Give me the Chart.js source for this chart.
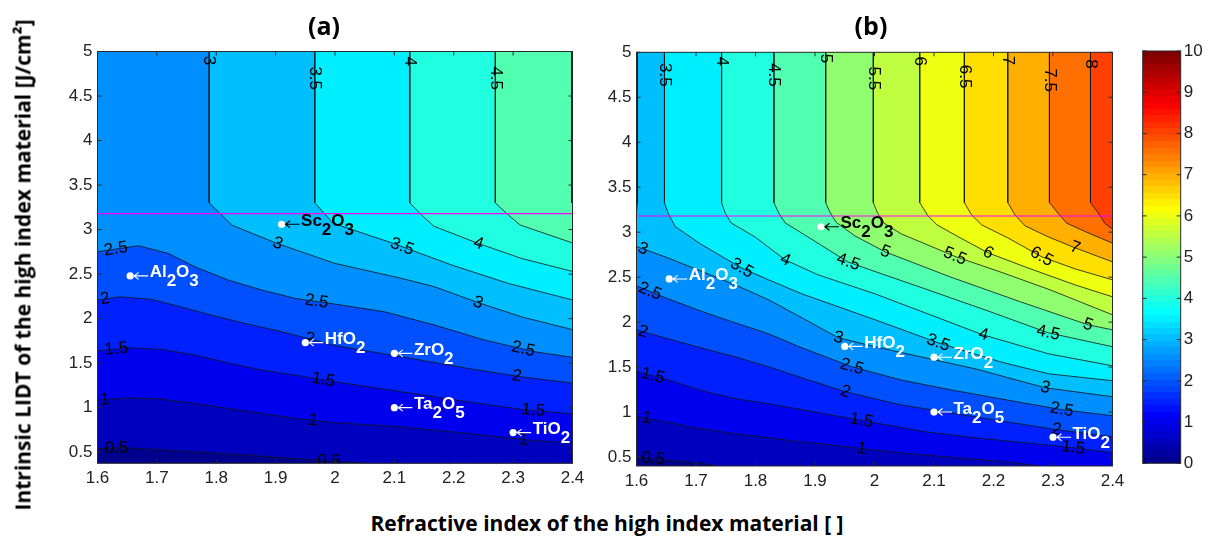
<!DOCTYPE html>
<html>
<head>
<meta charset="utf-8">
<script src="https://cdn.jsdelivr.net/npm/chart.js@4.4.1/dist/chart.umd.min.js"></script>
<style>
  html, body { margin: 0; padding: 0; background: #fff; }
  #wrap { position: relative; width: 1214px; height: 540px; overflow: hidden; background: #fff; }
  canvas { position: absolute; top: 0; }
  .ttl { position: absolute; font-family: "Open Sans", sans-serif; font-weight: 700; color: #000;
         white-space: nowrap; transform: translate(-50%, -50%); line-height: 1; }
</style>
</head>
<body>
<div id="wrap">
  <canvas id="panelA" width="600" height="500" style="left:0px"></canvas>
  <canvas id="panelB" width="600" height="500" style="left:540px"></canvas>
  <canvas id="cbar" width="94" height="500" style="left:1120px"></canvas>
  <div class="ttl" style="left:324px; top:25px; font-size:25px">(a)</div>
  <div class="ttl" style="left:871px; top:25px; font-size:25px">(b)</div>
  <div class="ttl" style="left:23px; top:265px; font-size:21px; transform: translate(-50%, -50%) rotate(-90deg)">Intrinsic LIDT of the high index material [J/cm²]</div>
  <div class="ttl" style="left:607px; top:523px; font-size:21px">Refractive index of the high index material [ ]</div>
</div>
<script>
// axes
var X_MIN = 1.6, X_MAX = 2.4, Y_MAX = 5;
var xTicks = [1.6, 1.7, 1.8, 1.9, 2, 2.1, 2.2, 2.3, 2.4];
var yTicks = [0.5, 1, 1.5, 2, 2.5, 3, 3.5, 4, 4.5, 5];
var cbTicks = [0, 1, 2, 3, 4, 5, 6, 7, 8, 9, 10];
var cbRange = [0, 10];

// materials (refractive index, intrinsic LIDT)
var matNames = ['Sc_2O_3', 'Al_2O_3', 'HfO_2', 'ZrO_2', 'Ta_2O_5', 'TiO_2'];
var matIndex = [1.91, 1.655, 1.95, 2.10, 2.10, 2.30];
var matLidt  = [3.06, 2.48, 1.73, 1.61, 1.00, 0.72];
var matInk   = ['#000', '#fff', '#fff', '#fff', '#fff', '#fff'];

// horizontal guide line
var guideLidt = 3.18;

// ---- panel (a): contour lines [n, LIDT]
var a05 = [[1.6,0.542],[1.652,0.548],[1.764,0.503],[1.877,0.455],[1.989,0.399],[2.056,0.373]];
var a10 = [[1.6,1.084],[1.652,1.110],[1.708,1.096],[1.764,1.047],[1.820,0.991],[1.877,0.935],[1.933,0.879],[2.0,0.832],[2.112,0.784],[2.225,0.710],[2.314,0.643],[2.4,0.600]];
var a15 = [[1.6,1.638],[1.652,1.672],[1.708,1.654],[1.764,1.590],[1.820,1.503],[1.877,1.421],[1.933,1.365],[2.0,1.290],[2.112,1.178],[2.225,1.065],[2.314,0.980],[2.4,0.930]];
var a20 = [[1.6,2.208],[1.638,2.245],[1.691,2.216],[1.736,2.140],[1.792,2.039],[1.848,1.946],[1.904,1.863],[2.0,1.698],[2.112,1.571],[2.225,1.440],[2.314,1.346],[2.4,1.275]];
var a25 = [[1.6,2.751],[1.669,2.818],[1.719,2.733],[1.764,2.582],[1.820,2.433],[1.877,2.320],[1.933,2.227],[2.0,2.163],[2.084,2.076],[2.168,1.927],[2.253,1.758],[2.337,1.627],[2.4,1.565]];
var a30 = [[1.788,5],[1.788,3.30],[1.809,3.163],[1.826,3.051],[1.902,2.845],[2.0,2.620],[2.112,2.452],[2.168,2.357],[2.241,2.18],[2.314,2.02],[2.4,1.876]];
var a35 = [[1.966,5],[1.966,3.30],[1.985,3.16],[1.997,3.070],[2.095,2.852],[2.197,2.601],[2.292,2.395],[2.4,2.21]];
var a40 = [[2.126,5],[2.126,3.30],[2.146,3.163],[2.166,3.039],[2.241,2.845],[2.314,2.676],[2.4,2.53]];
var a45 = [[2.270,5],[2.270,3.30],[2.292,3.163],[2.312,3.051],[2.4,2.85]];
var aEdge = [[2.3985,5],[2.3985,3.30]];
var aLevels = [0.5, 1, 1.5, 2, 2.5, 3, 3.5, 4, 4.5];
// contour labels [level, n, LIDT]
var aLabels = [
  [3,1.788,4.90],[3.5,1.966,4.70],[4,2.126,4.89],[4.5,2.27,4.70],
  [2.5,1.631,2.78],[2,1.613,2.21],[1.5,1.632,1.64],[1,1.613,1.08],[0.5,1.632,0.54],
  [3,1.903,2.83],[2.5,1.969,2.20],[2,1.958,1.79],[1.5,1.980,1.30],[1,1.963,0.85],[0.5,1.99,0.40],
  [3.5,2.112,2.79],[4,2.241,2.83],[3,2.241,2.18],[2.5,2.317,1.65],[2,2.306,1.33],[1.5,2.334,0.97],[1,2.317,0.64]
];

// ---- panel (b): contour lines [n, LIDT]
var b05 = [[1.6,0.500],[1.645,0.470],[1.715,0.426],[1.734,0.40]];
var b10 = [[1.6,0.951],[1.645,0.896],[1.701,0.822],[1.757,0.767],[1.813,0.722],[1.869,0.674],[1.925,0.637],[1.979,0.592],[2.043,0.548],[2.127,0.498],[2.211,0.453],[2.278,0.40]];
var b15 = [[1.6,1.451],[1.653,1.359],[1.710,1.237],[1.766,1.148],[1.822,1.092],[1.878,1.026],[1.934,0.959],[1.980,0.905],[2.085,0.781],[2.169,0.714],[2.253,0.659],[2.334,0.603],[2.4,0.548]];
var b20 = [[1.6,1.914],[1.653,1.814],[1.710,1.711],[1.766,1.614],[1.822,1.503],[1.878,1.381],[1.951,1.226],[2.043,1.081],[2.127,0.992],[2.211,0.903],[2.307,0.803],[2.4,0.726]];
var b25 = [[1.6,2.403],[1.653,2.259],[1.710,2.118],[1.766,1.992],[1.822,1.870],[1.878,1.714],[1.962,1.503],[2.043,1.359],[2.127,1.248],[2.211,1.148],[2.315,1.026],[2.4,0.959]];
var b30 = [[1.6,2.840],[1.653,2.714],[1.710,2.562],[1.766,2.414],[1.822,2.248],[1.878,2.048],[1.939,1.826],[2.001,1.726],[2.085,1.603],[2.169,1.481],[2.287,1.270],[2.4,1.170]];
var b35 = [[1.647,5],[1.647,3.329],[1.653,3.214],[1.665,3.062],[1.710,2.859],[1.777,2.600],[1.822,2.470],[1.878,2.314],[2.001,2.026],[2.107,1.770],[2.211,1.559],[2.292,1.426],[2.4,1.348]];
var b40 = [[1.743,5],[1.743,3.329],[1.749,3.214],[1.759,3.103],[1.799,2.948],[1.850,2.692],[1.905,2.526],[2.001,2.314],[2.107,2.048],[2.182,1.859],[2.292,1.648],[2.4,1.514]];
var b45 = [[1.831,5],[1.831,3.329],[1.839,3.214],[1.850,3.103],[1.888,2.948],[1.955,2.670],[2.001,2.562],[2.085,2.370],[2.195,2.114],[2.292,1.881],[2.4,1.726]];
var b50 = [[1.918,5],[1.918,3.329],[1.924,3.237],[1.935,3.114],[1.967,2.959],[2.018,2.781],[2.127,2.503],[2.245,2.226],[2.359,1.970],[2.4,1.914]];
var b55 = [[1.998,5],[1.998,3.329],[2.005,3.214],[2.016,3.10],[2.045,2.981],[2.137,2.726],[2.211,2.559],[2.295,2.359],[2.4,2.081]];
var b60 = [[2.076,5],[2.076,3.329],[2.090,3.181],[2.105,3.081],[2.144,2.937],[2.191,2.770],[2.253,2.614],[2.337,2.414],[2.4,2.281]];
var b65 = [[2.151,5],[2.151,3.329],[2.163,3.192],[2.180,3.081],[2.224,2.937],[2.281,2.726],[2.337,2.592],[2.4,2.470]];
var b70 = [[2.224,5],[2.224,3.329],[2.236,3.192],[2.253,3.070],[2.292,2.948],[2.337,2.826],[2.4,2.670]];
var b75 = [[2.294,5],[2.294,3.329],[2.308,3.214],[2.323,3.100],[2.354,3.007],[2.4,2.878]];
var b80 = [[2.363,5],[2.363,3.329],[2.376,3.214],[2.387,3.100],[2.4,3.033]];
var bEdge = [[1.6015,5],[1.6015,3.329],[1.6,3.2]];
var bLevels = [0.5, 1, 1.5, 2, 2.5, 3, 3.5, 4, 4.5, 5, 5.5, 6, 6.5, 7, 7.5, 8];
var bLabels = [
  [3.5,1.647,4.75],[4,1.743,4.90],[4.5,1.831,4.75],[5,1.918,4.93],[5.5,1.998,4.71],
  [6,2.076,4.90],[6.5,2.151,4.73],[7,2.224,4.91],[7.5,2.294,4.69],[8,2.363,4.87],
  [3,1.61,2.80],[2.5,1.623,2.35],[2,1.611,1.89],[1.5,1.628,1.41],[1,1.617,0.92],[0.5,1.628,0.48],
  [3.5,1.777,2.60],[4,1.850,2.69],[4.5,1.956,2.67],[5,2.018,2.78],[5.5,2.135,2.73],[6,2.191,2.77],[6.5,2.281,2.73],[7,2.337,2.82],
  [3,1.939,1.82],[2.5,1.962,1.50],[2,1.950,1.20],[1.5,1.978,0.90],[1,1.978,0.59],
  [3.5,2.107,1.77],[4,2.183,1.86],[4.5,2.292,1.88],[5,2.359,1.97],
  [3,2.287,1.27],[2.5,2.315,1.03],[2,2.306,0.80],[1.5,2.334,0.60]
];

Chart.defaults.font.family = '"Liberation Sans", Arial, Helvetica, sans-serif';
Chart.defaults.color = '#222';

// MATLAB jet colormap
function jet(t) {
  var c = function(v) { return Math.round(255 * Math.max(0, Math.min(1, v))); };
  return 'rgb(' + c(1.5 - Math.abs(4 * t - 3)) + ',' + c(1.5 - Math.abs(4 * t - 2)) + ',' + c(1.5 - Math.abs(4 * t - 1)) + ')';
}
function bandColor(level) {
  var k = Math.min(64, Math.floor(level / (cbRange[1] - cbRange[0]) * 64) + 1);
  return jet(k / 64);
}
function toPts(arr) {
  return arr.map(function(p) { return {x: p[0], y: p[1]}; });
}
// closed shape of the region >= level (high side is up/right)
function regionPolygon(c, yMin) {
  var E = 0.2;
  var first = c[0], last = c[c.length - 1];
  var pts = [[X_MAX + E, Y_MAX + E], [X_MIN - E, Y_MAX + E]];
  if (first[1] >= Y_MAX - 1e-9) pts.push([first[0], Y_MAX + E]);
  else pts.push([X_MIN - E, first[1]]);
  c.forEach(function(p) { pts.push(p); });
  if (last[1] <= yMin + 1e-9) {
    pts.push([last[0], yMin - E]);
    pts.push([X_MAX + E, yMin - E]);
  } else {
    pts.push([X_MAX + E, last[1]]);
  }
  return pts;
}
function snapToContour(xs, ys, c, lx, ly) {
  var qx = xs.getPixelForValue(lx), qy = ys.getPixelForValue(ly);
  var best = null;
  for (var i = 0; i < c.length - 1; i++) {
    var x1 = xs.getPixelForValue(c[i][0]), y1 = ys.getPixelForValue(c[i][1]);
    var x2 = xs.getPixelForValue(c[i + 1][0]), y2 = ys.getPixelForValue(c[i + 1][1]);
    var dx = x2 - x1, dy = y2 - y1, l2 = dx * dx + dy * dy || 1;
    var t = Math.max(0, Math.min(1, ((qx - x1) * dx + (qy - y1) * dy) / l2));
    var px = x1 + t * dx, py = y1 + t * dy;
    var d = (px - qx) * (px - qx) + (py - qy) * (py - qy);
    if (!best || d < best.d) best = {d: d, x: px, y: py, a: Math.atan2(dy, dx)};
  }
  if (best.a > Math.PI / 2 + 1e-6) best.a -= Math.PI;
  if (best.a < -Math.PI / 2) best.a += Math.PI;
  return best;
}
function drawMaterial(ctx, xs, ys, i) {
  var px = xs.getPixelForValue(matIndex[i]), py = ys.getPixelForValue(matLidt[i]);
  ctx.fillStyle = '#fff';
  ctx.beginPath(); ctx.arc(px, py, 3.6, 0, Math.PI * 2); ctx.fill();
  ctx.strokeStyle = matInk[i]; ctx.lineWidth = 1.1;
  ctx.beginPath();
  ctx.moveTo(px + 4, py); ctx.lineTo(px + 18, py);
  ctx.moveTo(px + 8.5, py - 3.5); ctx.lineTo(px + 4, py); ctx.lineTo(px + 8.5, py + 3.5);
  ctx.stroke();
  ctx.fillStyle = matInk[i];
  ctx.font = 'bold 17px "Liberation Sans", Arial, sans-serif';
  ctx.textAlign = 'left'; ctx.textBaseline = 'alphabetic';
  var x = px + 19.5;
  matNames[i].split(/_(\d+)/).forEach(function(part, k) {
    if (!part) return;
    ctx.fillText(part, x, k % 2 ? py + 10.5 : py + 1.5);
    x += ctx.measureText(part).width;
  });
}
function drawFrame(ctx, a, xs, ys, xt, yt) {
  ctx.save();
  ctx.strokeStyle = '#2a2a2a'; ctx.lineWidth = 1;
  ctx.beginPath();
  (xt || []).forEach(function(v) {
    var p = xs.getPixelForValue(v);
    ctx.moveTo(p, a.bottom); ctx.lineTo(p, a.bottom - 4);
    ctx.moveTo(p, a.top); ctx.lineTo(p, a.top + 4);
  });
  yt.forEach(function(v) {
    var p = ys.getPixelForValue(v);
    ctx.moveTo(a.left, p); ctx.lineTo(a.left + 4, p);
    ctx.moveTo(a.right, p); ctx.lineTo(a.right - 4, p);
  });
  ctx.stroke();
  ctx.strokeRect(a.left, a.top, a.right - a.left, a.bottom - a.top);
  ctx.restore();
}

function panelPlugin(cfg) {
  return {
    id: 'panelDecor',
    beforeDatasetsDraw: function(chart) {
      var a = chart.chartArea, ctx = chart.ctx;
      ctx.save();
      ctx.fillStyle = bandColor(0);
      ctx.fillRect(a.left, a.top, a.right - a.left, a.bottom - a.top);
      ctx.restore();
    },
    afterDatasetsDraw: function(chart) {
      var ctx = chart.ctx, a = chart.chartArea, xs = chart.scales.x, ys = chart.scales.y;
      ctx.save();
      ctx.beginPath(); ctx.rect(a.left, a.top, a.right - a.left, a.bottom - a.top); ctx.clip();
      ctx.font = '17px "Liberation Sans", Arial, sans-serif';
      ctx.fillStyle = '#000'; ctx.textAlign = 'center'; ctx.textBaseline = 'middle';
      cfg.labels.forEach(function(l) {
        var c = cfg.contours[cfg.levels.indexOf(l[0])];
        var p = snapToContour(xs, ys, c, l[1], l[2]);
        ctx.save(); ctx.translate(p.x, p.y); ctx.rotate(p.a);
        ctx.fillText(String(l[0]), 0, 0);
        ctx.restore();
      });
      for (var i = 0; i < matNames.length; i++) drawMaterial(ctx, xs, ys, i);
      ctx.restore();
      drawFrame(ctx, a, xs, ys, xTicks, yTicks);
    }
  };
}

function makePanel(id, cfg) {
  var datasets = [];
  cfg.levels.forEach(function(lv, i) {
    datasets.push({
      data: toPts(regionPolygon(cfg.contours[i], cfg.yMin)),
      showLine: true, fill: 'shape', backgroundColor: bandColor(lv),
      borderWidth: 0, pointRadius: 0, order: 100 - i
    });
  });
  cfg.contours.concat(cfg.edges).forEach(function(c) {
    datasets.push({
      data: toPts(c), showLine: true, fill: false,
      borderColor: '#141414', borderWidth: 0.8, pointRadius: 0, order: 1
    });
  });
  datasets.push({
    data: toPts([[X_MIN, guideLidt], [X_MAX, guideLidt]]), showLine: true, fill: false,
    borderColor: '#ff00ff', borderWidth: 1.2, pointRadius: 0, order: 0
  });
  return new Chart(document.getElementById(id), {
    type: 'scatter',
    data: { datasets: datasets },
    options: {
      responsive: false, animation: false, events: [],
      layout: { padding: { top: cfg.top, right: 27.5, left: 0, bottom: 0 } },
      plugins: { legend: { display: false }, tooltip: { enabled: false } },
      scales: {
        x: {
          type: 'linear', min: X_MIN, max: X_MAX,
          afterBuildTicks: function(s) { s.ticks = xTicks.map(function(v) { return {value: v}; }); },
          afterFit: function(s) { s.height = cfg.xAxisH; },
          ticks: { font: { size: 17 }, padding: 5, maxRotation: 0, autoSkip: false,
                   callback: function(v) { return String(v); } },
          grid: { display: false, drawTicks: false }, border: { display: false }
        },
        y: {
          type: 'linear', min: cfg.yMin, max: Y_MAX,
          afterBuildTicks: function(s) { s.ticks = yTicks.map(function(v) { return {value: v}; }); },
          afterFit: function(s) { s.width = cfg.yAxisW; },
          ticks: { font: { size: 17 }, padding: 5, autoSkip: false,
                   callback: function(v) { return String(v); } },
          grid: { display: false, drawTicks: false }, border: { display: false }
        }
      }
    },
    plugins: [panelPlugin(cfg)]
  });
}

makePanel('panelA', {
  levels: aLevels, contours: [a05, a10, a15, a20, a25, a30, a35, a40, a45],
  edges: [aEdge], labels: aLabels, yMin: 0.375, top: 51.5, xAxisH: 36.7, yAxisW: 97.5
});
makePanel('panelB', {
  levels: bLevels, contours: [b05, b10, b15, b20, b25, b30, b35, b40, b45, b50, b55, b60, b65, b70, b75, b80],
  edges: [bEdge], labels: bLabels, yMin: 0.4, top: 52.3, xAxisH: 34, yAxisW: 96.5
});

// colour bar
new Chart(document.getElementById('cbar'), {
  type: 'bar',
  data: {
    labels: [''],
    datasets: [{
      data: [cbRange],
      barPercentage: 1, categoryPercentage: 1, borderWidth: 0,
      backgroundColor: function(c) {
        var ch = c.chart, a = ch.chartArea;
        if (!a) return jet(0.5);
        var ys = ch.scales.y;
        var g = ch.ctx.createLinearGradient(0, ys.getPixelForValue(cbRange[0]), 0, ys.getPixelForValue(cbRange[1]));
        for (var k = 1; k <= 64; k++) {
          g.addColorStop((k - 1) / 64, jet(k / 64));
          g.addColorStop(k / 64, jet(k / 64));
        }
        return g;
      }
    }]
  },
  options: {
    responsive: false, animation: false, events: [],
    layout: { padding: { top: 51, left: 22.7, right: 0, bottom: 36.7 } },
    plugins: { legend: { display: false }, tooltip: { enabled: false } },
    scales: {
      x: { display: false },
      y: {
        position: 'right', min: cbRange[0], max: cbRange[1],
        afterBuildTicks: function(s) { s.ticks = cbTicks.map(function(v) { return {value: v}; }); },
        afterFit: function(s) { s.width = 33.3; },
        ticks: { font: { size: 17 }, padding: 3, callback: function(v) { return String(v); } },
        grid: { display: false, drawTicks: false }, border: { display: false }
      }
    }
  },
  plugins: [{
    id: 'cbFrame',
    afterDatasetsDraw: function(chart) {
      drawFrame(chart.ctx, chart.chartArea, chart.scales.x, chart.scales.y, null, cbTicks);
    }
  }]
});
</script>
</body>
</html>
